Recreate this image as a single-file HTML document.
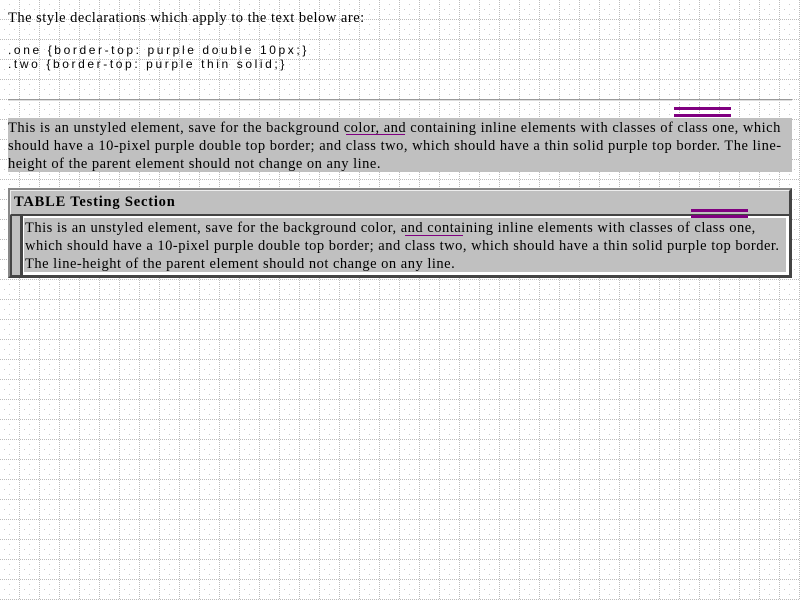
<!DOCTYPE html>
<html><head><style>
html,body{margin:0;padding:0;width:800px;height:600px;overflow:hidden;background:#fff;position:relative;font-family:"Liberation Serif",serif;color:#000}
.a{position:absolute;white-space:nowrap}
.t{font-size:14.5px;line-height:18px;letter-spacing:0.5px}
.code{font-family:"Liberation Sans",sans-serif;font-size:12px;letter-spacing:2.6px;line-height:14px}
</style></head><body>
<svg class="a" style="left:0;top:0" width="800" height="600">
<defs>
<pattern id="g" x="0" y="0" width="20" height="20" patternUnits="userSpaceOnUse">
<line x1="19.5" y1="0" x2="19.5" y2="20" stroke="#bbb" stroke-dasharray="1 1"/>
<line x1="0" y1="19.5" x2="20" y2="19.5" stroke="#bbb" stroke-dasharray="1 1"/>
<rect x="9" y="4" width="1" height="1" fill="#ccc"/><rect x="4" y="9" width="1" height="1" fill="#ccc"/>
<rect x="14" y="9" width="1" height="1" fill="#ccc"/><rect x="9" y="14" width="1" height="1" fill="#ccc"/>
</pattern></defs>
<rect width="800" height="600" fill="url(#g)"/>
</svg>
<div class="a t" style="left:8px;top:9px">The style declarations which apply to the text below are:</div>
<div class="a code" style="left:8px;top:43px">.one {border-top: purple double 10px;}<br>.two {border-top: purple thin solid;}</div>
<div class="a" style="left:8px;top:99px;width:784px;height:0;border-top:1px solid #999;border-bottom:1px solid #ddd"></div>
<div class="a" style="left:674px;top:107px;width:57px;height:3px;background:#800080"></div>
<div class="a" style="left:674px;top:114px;width:57px;height:3px;background:#800080"></div>
<div class="a t" style="left:8px;top:118px;width:784px;height:54px;background:#c0c0c0;padding-top:1px;box-sizing:border-box">This is an unstyled element, save for the background color, and containing inline elements with classes of class one, which<br>should have a 10-pixel purple double top border; and class two, which should have a thin solid purple top border. The line-<br>height of the parent element should not change on any line.</div>
<div class="a" style="left:346px;top:134px;width:59px;height:1px;background:#800080"></div>
<div class="a" style="left:8px;top:188px;width:784px;height:90px;box-sizing:border-box;border:2px solid;border-color:#888 #444 #444 #888;background:#c0c0c0"></div>
<div class="a" style="left:10px;top:190px;width:780px;height:25px;box-sizing:border-box;border:1px solid;border-color:#eee #444 #444 #eee;background:#c0c0c0"></div>
<div class="a" style="left:14px;top:193px;font-size:14.5px;font-weight:bold;line-height:18px;letter-spacing:0.8px">TABLE Testing Section</div>
<div class="a" style="left:10px;top:215px;width:11px;height:61px;box-sizing:border-box;border:1px solid #444;border-left-width:2px;background:#c0c0c0"></div>
<div class="a" style="left:21px;top:215px;width:769px;height:61px;box-sizing:border-box;border:1px solid #444;border-left-width:2px;background:#fff"></div>
<div class="a t" style="left:24px;top:218px;width:762px;height:54px;background:#c0c0c0;padding:1px 0 0 1px;box-sizing:border-box;overflow:hidden">This is an unstyled element, save for the background color, and containing inline elements with classes of class one,<br>which should have a 10-pixel purple double top border; and class two, which should have a thin solid purple top border.<br>The line-height of the parent element should not change on any line.</div>
<div class="a" style="left:691px;top:209px;width:57px;height:3px;background:#800080"></div>
<div class="a" style="left:691px;top:215px;width:57px;height:3px;background:#800080"></div>
<div class="a" style="left:405px;top:235px;width:58px;height:1px;background:#800080"></div>
</body></html>
